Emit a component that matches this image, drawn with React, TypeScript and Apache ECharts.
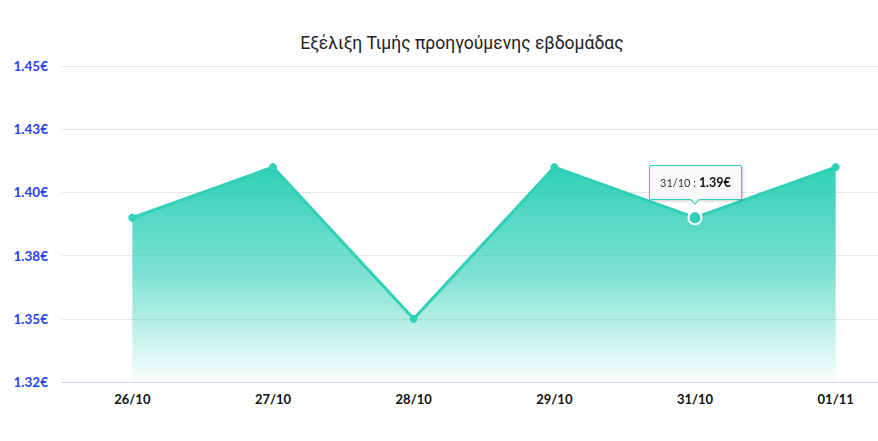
import React, { useEffect, useRef } from "react";
import * as echarts from "echarts";

const categories = ["26/10", "27/10", "28/10", "29/10", "31/10", "01/11"];
const prices = [1.39, 1.41, 1.35, 1.41, 1.39, 1.41];
const highlightIndex = 4;
const titleText = "Εξέλιξη Τιμής προηγούμενης εβδομάδας";

const TEAL = "#2fd0b6";

export default function App() {
  const ref = useRef<HTMLDivElement>(null);
  useEffect(() => {
    document.body.style.margin = "0";
    const chart = echarts.init(ref.current!, null, { renderer: "svg" });
    chart.setOption({
      animation: false,
      title: {
        text: titleText,
        left: 457,
        top: 29,
        textAlign: "center",
        textStyle: { fontFamily: "Roboto", fontSize: 17.5, fontWeight: "normal", color: "#222" },
      },
      tooltip: {
        trigger: "item",
        triggerOn: "none",
        alwaysShowContent: true,
        position: "top",
        transitionDuration: 0,
        backgroundColor: "#f9f9f9",
        borderColor: TEAL,
        borderWidth: 1,
        padding: [6, 10],
        extraCssText:
          "box-shadow: 1px 1px 3px rgba(0,0,0,0.2); border-radius: 2px; border: 1px solid " + TEAL + " !important;",
        formatter: (p: any) =>
          `<span style="font-family:Lato,sans-serif;font-size:11px;color:#333">${p.name} : </span><span style="font-family:Lato,sans-serif;font-size:12.5px;font-weight:bold;color:#111">${p.value.toFixed(2)}€</span>`,
      },
      grid: { left: 62, right: 0, top: 66, bottom: 59 },
      xAxis: {
        type: "category",
        data: categories,
        boundaryGap: true,
        axisLine: { lineStyle: { color: "#ccd6eb" } },
        axisTick: { show: false },
        axisLabel: {
          color: "#111",
          fontFamily: "Lato",
          fontWeight: "bold",
          fontSize: 13,
          margin: 10,
        },
      },
      yAxis: {
        type: "value",
        min: 1.325,
        max: 1.45,
        interval: 0.025,
        axisLine: { show: false },
        axisTick: { show: false },
        splitLine: { lineStyle: { color: "#e6e6e6" } },
        axisLabel: {
          color: "#2346f5",
          fontFamily: "Lato",
          fontWeight: "bold",
          fontSize: 13.5,
          margin: 14,
          formatter: (v: number) => v.toFixed(2) + "€",
        },
      },
      series: [
        {
          type: "line",
          data: prices.map((v, i) =>
            i === highlightIndex
              ? {
                  value: v,
                  symbolSize: 13,
                  itemStyle: { color: TEAL, borderColor: "#fff", borderWidth: 2 },
                }
              : v
          ),
          symbol: "circle",
          symbolSize: 8,
          lineStyle: { color: TEAL, width: 3 },
          itemStyle: { color: TEAL },
          areaStyle: {
            opacity: 1,
            color: new echarts.graphic.LinearGradient(0, 0, 0, 1, [
              { offset: 0, color: "rgba(47,208,182,1)" },
              { offset: 0.5, color: "rgba(47,208,182,0.62)" },
              { offset: 1, color: "rgba(47,208,182,0.02)" },
            ]),
          },
        },
      ],
    });
    chart.dispatchAction({ type: "showTip", seriesIndex: 0, dataIndex: highlightIndex });
    return () => chart.dispose();
  }, []);
  return (
    <div style={{ width: 878, height: 441, overflow: "hidden", position: "relative" }}>
      <div ref={ref} style={{ width: 906, height: 441 }} />
    </div>
  );
}
